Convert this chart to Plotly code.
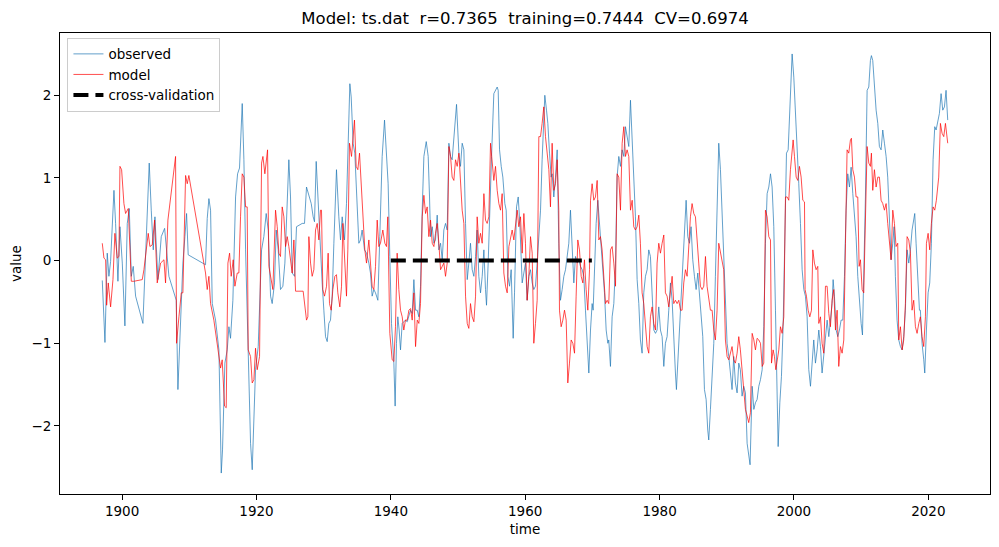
import plotly.graph_objects as go

# ---- observed series (year, value) ----
obs_t = [1897.05,1897.45,1897.79,1898.04,1898.29,1898.79,1899.03,1899.38,1899.68,1900.03,1900.42,1900.77,1901.07,1901.37,1901.66,1902.01,1903.10,1903.50,1904.04,1904.34,1904.64,1904.89,1905.33,1905.83,1906.33,1906.97,1908.06,1908.31,
1908.70,1909.05,1909.35,1909.60,1909.84,1912.42,1912.67,1912.92,1913.17,1913.42,1913.91,1914.41,1914.76,1914.95,1915.30,1915.65,1915.90,1916.14,1916.49,1916.89,1917.19,1917.48,1917.88,1918.13,1918.38,1918.77,1919.12,1919.37,1919.62,1919.86,1920.26,1920.76,1921.10,1921.45,1921.75,1922.10,1922.34,1922.69,1922.94,1923.24,1923.58,1923.93,1924.23,1924.58,1924.82,1925.07,
1925.32,1925.67,1925.96,1926.81,1927.15,1927.45,1927.80,1928.15,1928.44,1928.64,1928.89,1929.14,1929.43,1929.78,1930.03,1930.28,1930.53,1930.77,1931.02,1931.27,1931.52,1931.91,1932.26,1932.51,1932.76,1933.11,1933.40,1933.70,1933.90,1934.10,1934.39,1934.64,1934.89,1935.24,1935.49,1935.73,1936.08,1936.38,1936.73,1936.97,1937.22,1937.47,1937.72,1938.07,1938.36,1938.71,1939.06,1939.35,1939.60,1939.85,1940.10,1940.45,1940.64,1940.84,1941.04,1941.24,1941.44,1941.69,1942.18,
1942.44,1942.69,1942.93,1943.18,1943.43,1943.68,1943.93,1944.17,1944.42,1944.67,1944.92,1945.27,1945.56,1945.76,1945.91,1946.16,1946.41,1946.65,1946.90,1947.15,1947.40,1947.65,1947.89,1948.14,1948.39,1948.64,1948.89,1949.13,1949.38,1949.63,1949.78,1950.13,1950.37,1950.62,1950.87,1951.12,1951.37,1951.61,1951.86,1952.11,1952.36,1952.61,1952.85,1953.10,1953.35,1953.60,1953.85,1954.09,1954.24,1954.49,1954.69,1954.99,1955.33,1955.58,1955.83,1955.98,1956.18,1956.43,1956.67,1956.97,1957.17,1957.42,1957.67,1957.91,1958.21,1958.41,1958.71,1958.96,1959.20,
1959.55,1959.80,1960.04,1960.29,1960.54,1960.79,1961.04,1961.28,1961.53,1961.78,1962.03,1962.28,1962.52,1962.77,1962.92,1963.17,1963.37,1963.62,1963.86,1964.01,1964.26,1964.51,1964.76,1965.00,1965.25,1965.50,1965.75,1966.00,1966.24,1966.49,1966.74,1966.99,1967.24,1967.48,1967.73,1967.98,1968.23,1968.48,1968.72,1968.97,1969.22,1969.47,1969.72,1969.96,1970.11,1970.31,1970.56,1970.81,1971.06,1971.30,1971.55,1971.80,1972.05,1972.30,1972.44,1972.69,1972.94,1973.19,1973.44,1973.68,1973.93,1974.18,1974.43,1974.68,1974.92,1975.17,1975.42,1975.67,1975.92,1976.16,1976.41,
1976.66,1976.91,1977.15,1977.40,1977.65,1977.90,1978.15,1978.39,1978.64,1978.89,1979.14,1979.39,1979.63,1979.88,1980.13,1980.38,1980.63,1980.87,1981.12,1981.37,1981.62,1981.87,1982.11,1982.36,1982.51,1982.76,1983.01,1983.25,1983.50,1983.75,1983.95,1984.20,1984.45,1984.69,1984.94,1985.19,1985.44,1985.69,1985.93,1986.18,1986.43,1986.68,1986.93,1987.17,1987.32,1987.57,1987.82,1988.07,1988.31,1988.56,1988.81,1989.06,1989.31,1989.55,1989.80,1990.05,1990.30,1990.55,1990.79,1991.04,1991.29,1991.54,1991.79,1992.03,1992.28,1992.53,1992.78,1993.03,1993.27,1993.47,
1993.78,1994.03,1994.27,1994.52,1994.77,1995.02,1995.27,1995.51,1995.76,1996.01,1996.26,1996.51,1996.75,1997.00,1997.25,1997.50,1997.65,1997.90,1998.14,1998.39,1998.64,1998.89,1999.14,1999.38,1999.58,1999.73,1999.98,2000.23,2000.47,2000.72,2000.97,2001.22,2001.47,2001.71,2001.96,2002.21,2002.46,2002.71,2002.95,2003.20,2003.45,2003.70,2003.95,2004.19,2004.44,2004.69,2004.94,2005.19,2005.43,2005.68,2005.83,2006.03,2006.28,2006.53,2006.77,2007.02,2007.27,2007.52,2007.76,2008.01,2008.26,2008.51,2008.76,2009.01,2009.25,2009.50,2009.75,2010.00,2010.20,2010.39,2010.64,
2010.89,2011.14,2011.38,2011.53,2011.73,2011.98,2012.23,2012.48,2012.72,2012.97,2013.22,2013.47,2013.72,2013.96,2014.21,2014.46,2014.71,2014.91,2015.10,2015.35,2015.60,2015.85,2016.10,2016.34,2016.59,2016.84,2017.09,2017.34,2017.58,2017.83,2017.98,2018.18,2018.43,2018.68,2018.82,2019.07,2019.32,2019.47,2019.72,2019.97,2020.21,2020.46,2020.71,2020.96,2021.16,2021.40,2021.65,2021.90,2022.15,2022.40,2022.64,2022.89]
obs_v = [-0.24,-0.99,0.09,-0.19,-0.01,0.85,0.45,-0.25,0.41,-0.03,-0.79,0.45,0.63,-0.19,-0.07,-0.43,-0.76,0.13,1.18,0.61,0.13,0.53,-0.23,0.29,0.39,-0.19,-0.48,-1.56,
-0.84,-0.03,0.29,0.57,0.07,-0.05,0.51,0.75,0.61,-0.52,-0.72,-1.08,-2.57,-2.29,-1.24,-1.08,-0.80,-0.94,-0.48,0.77,1.05,1.12,1.90,1.22,0.13,-1.00,-2.21,-2.53,-1.96,-1.32,-1.04,0.13,0.29,0.57,0.37,-0.43,-0.52,-0.27,0.37,0.13,-0.35,-0.31,-0.03,0.85,1.22,0.77,
-0.15,-0.19,0.41,0.45,0.45,0.89,0.79,0.69,0.53,0.47,1.20,0.77,0.21,-0.27,-0.60,-0.92,-0.98,-0.76,-0.72,-0.43,0.21,1.10,0.53,0.25,0.53,0.25,0.69,1.74,2.14,1.98,1.42,1.30,0.89,0.21,0.25,0.37,0.13,0.09,-0.03,-0.15,-0.43,-0.35,-0.39,-0.48,0.29,1.26,1.70,1.30,0.93,0.05,-0.76,-1.24,-1.76,-1.00,-0.68,-0.84,-1.08,-0.76,-0.72,
-0.74,-0.68,-0.60,-0.64,-0.23,-0.60,-0.60,-0.68,-0.31,0.61,1.26,1.44,1.26,0.77,0.29,0.41,0.21,0.25,0.55,0.13,0.21,0.01,0.37,0.45,0.37,1.42,1.26,1.22,1.50,1.82,1.89,1.30,1.14,1.42,1.34,0.45,-0.23,-0.03,0.21,-0.11,-0.19,0.05,0.37,-0.19,-0.39,-0.19,0.13,-0.35,-0.54,-0.03,0.61,1.26,2.02,2.06,2.10,2.06,1.34,1.14,1.01,0.69,0.61,-0.19,-0.31,-0.11,-0.94,-0.39,0.65,0.77,0.45,
-0.27,-0.15,-0.03,-0.48,-0.19,-0.11,-0.27,-0.35,-0.31,-0.03,0.37,0.61,1.22,1.82,2.00,1.82,1.66,1.30,1.01,1.05,0.77,1.01,1.34,0.21,-0.48,-0.35,-0.19,-0.11,0.09,0.21,0.61,0.13,-0.27,0.05,-0.03,0.01,-0.07,-0.11,-0.19,-0.60,-1.00,-1.36,-0.84,-0.52,-0.60,-0.03,0.45,0.73,0.45,0.13,-0.03,-0.39,-0.84,-1.00,-0.96,-1.28,-0.68,-0.52,-0.03,1.01,1.26,1.14,1.34,1.26,1.62,1.50,1.38,1.94,1.42,0.85,0.53,
-0.23,-0.52,-0.96,-1.12,-0.39,-0.19,-0.11,0.13,0.05,-0.52,-0.84,-0.88,-0.84,-0.56,-0.84,-0.92,-1.28,-1.00,-0.92,-0.60,-0.27,-0.48,-1.00,-1.36,-1.56,-1.16,-0.84,-0.52,-0.11,0.45,0.73,0.29,0.21,0.41,0.01,-0.19,-0.35,-0.15,-0.39,-0.72,-0.92,-1.56,-1.68,-2.05,-2.17,-1.80,-1.40,-1.00,-0.19,0.61,1.42,1.10,0.53,0.21,-0.60,-1.00,-1.16,-1.40,-1.56,-1.16,-1.48,-1.60,-1.24,-1.32,-1.64,-1.52,-1.60,-2.21,-2.37,-2.47,
-1.52,-1.80,-1.72,-1.68,-1.52,-1.44,-1.32,-0.80,0.21,0.81,0.89,1.05,0.89,0.41,-0.60,-1.60,-2.25,-1.72,-1.40,-0.80,0.21,1.30,1.34,1.82,2.22,2.50,2.22,1.82,1.34,0.93,0.45,-0.11,-0.35,-0.43,-0.68,-1.32,-1.52,-1.16,-0.96,-1.24,-1.08,-0.84,-1.04,-1.36,-1.12,-0.88,-0.72,-0.92,-0.76,-0.52,-0.23,-0.43,-0.84,-0.92,-0.84,-0.72,-0.72,-0.19,0.61,1.05,0.89,1.13,0.81,0.53,0.29,-0.19,-0.52,-0.76,-0.90,-0.27,0.77,
2.06,2.10,2.42,2.48,2.42,2.10,1.82,1.66,1.38,1.34,1.58,1.42,1.26,1.01,0.41,0.01,0.21,0.41,-0.19,-0.72,-0.96,-1.04,-1.08,-0.92,-0.60,0.13,-0.03,0.13,0.37,0.53,0.57,0.21,-0.19,-0.60,-0.60,-1.00,-1.20,-1.36,-0.84,-0.39,-0.27,0.21,1.22,1.62,1.58,1.70,1.78,2.02,1.82,1.86,2.06,1.70]

# ---- model series (year, value) ----
mod_t = [1897.05,1897.30,1897.55,1897.70,1897.94,1898.29,1898.64,1898.93,1899.28,1899.53,1899.68,1899.93,1900.27,1900.52,1900.92,1901.12,1901.37,1901.76,1903.00,1903.25,1903.65,1903.89,1904.14,1904.49,1904.84,1905.23,1905.73,1906.23,1906.47,1906.82,1907.96,1908.11,1908.46,1908.81,1909.05,
1909.20,1909.45,1909.70,1909.94,1912.42,1912.67,1912.92,1913.17,1913.66,1914.41,1914.66,1914.90,1915.25,1915.50,1915.75,1916.00,1916.24,1916.54,1916.79,1917.14,1917.38,1917.63,1917.88,1918.13,1918.38,1918.62,1918.77,1919.12,1919.37,1919.62,1919.86,1920.11,1920.46,1920.76,1920.96,1921.25,1921.65,1921.85,1922.20,1922.44,1922.84,1923.09,1923.34,1923.58,1923.83,1924.08,1924.33,1924.58,1924.82,1925.07,1925.32,1925.57,1925.82,
1926.95,1927.15,1927.45,1927.65,1927.80,1928.05,1928.29,1928.54,1928.79,1929.04,1929.29,1929.53,1929.68,1929.88,1930.13,1930.43,1930.67,1930.87,1931.12,1931.37,1931.67,1931.91,1932.11,1932.41,1932.66,1932.86,1933.11,1933.40,1933.60,1933.85,1934.15,1934.35,1934.59,1934.84,1935.09,1935.34,1935.59,1935.88,1936.13,1936.38,1936.73,1936.97,1937.22,1937.47,1937.72,1937.97,1938.21,1938.46,1938.81,1939.11,1939.35,1939.55,1939.70,1939.85,1940.20,1940.45,1940.69,1940.94,1941.19,1941.44,1941.69,1941.93,1942.18,
1942.44,1942.69,1942.93,1943.18,1943.43,1943.68,1943.93,1944.17,1944.42,1944.67,1944.92,1945.17,1945.41,1945.66,1945.91,1946.16,1946.41,1946.65,1946.90,1947.15,1947.40,1947.65,1947.89,1948.14,1948.39,1948.64,1948.89,1949.13,1949.38,1949.63,1949.88,1950.13,1950.37,1950.62,1950.87,1951.12,1951.37,1951.61,1951.86,1952.11,1952.36,1952.61,1952.85,1953.10,1953.35,1953.60,1953.85,1954.09,1954.34,1954.59,1954.84,1955.09,1955.33,1955.58,1955.83,1956.08,1956.33,1956.57,1956.82,1957.07,1957.32,1957.57,1957.81,1958.06,1958.31,1958.56,1958.81,1959.05,1959.30,
1959.55,1959.80,1960.04,1960.29,1960.54,1960.79,1961.04,1961.28,1961.53,1961.78,1962.03,1962.28,1962.52,1962.77,1963.02,1963.27,1963.52,1963.76,1964.01,1964.26,1964.51,1964.76,1965.00,1965.10,1965.35,1965.60,1965.85,1966.10,1966.34,1966.59,1966.84,1967.09,1967.34,1967.58,1967.83,1968.08,1968.33,1968.58,1968.82,1969.07,1969.32,1969.57,1969.72,1969.96,1970.21,1970.46,1970.71,1970.96,1971.20,1971.45,1971.70,1971.95,1972.20,1972.44,1972.69,1972.94,1973.19,1973.44,1973.68,1973.93,1974.18,1974.43,1974.68,1974.92,1975.17,1975.42,1975.67,1975.92,1976.16,1976.41,
1976.66,1976.91,1977.15,1977.40,1977.65,1977.90,1978.15,1978.39,1978.64,1978.89,1979.14,1979.39,1979.63,1979.88,1980.13,1980.38,1980.63,1980.87,1981.12,1981.37,1981.62,1981.87,1982.11,1982.36,1982.61,1982.86,1983.11,1983.35,1983.60,1983.85,1984.10,1984.35,1984.59,1984.84,1985.09,1985.34,1985.59,1985.83,1986.08,1986.33,1986.58,1986.83,1987.07,1987.32,1987.57,1987.82,1988.07,1988.31,1988.56,1988.81,1989.06,1989.31,1989.55,1989.80,1990.05,1990.30,1990.55,1990.79,1991.04,1991.29,1991.54,1991.79,1992.03,1992.28,1992.53,1992.78,1993.03,1993.27,1993.52,
1993.78,1994.03,1994.27,1994.52,1994.77,1995.02,1995.27,1995.51,1995.76,1996.01,1996.26,1996.51,1996.66,1996.90,1997.10,1997.30,1997.50,1997.75,1997.99,1998.24,1998.49,1998.74,1998.99,1999.23,1999.48,1999.73,1999.88,2000.08,2000.33,2000.57,2000.82,2001.07,2001.32,2001.57,2001.66,2001.86,2002.11,2002.36,2002.61,2002.81,2003.05,2003.30,2003.55,2003.70,2003.95,2004.19,2004.44,2004.69,2004.94,2005.19,2005.43,2005.68,2005.93,2006.18,2006.43,2006.67,2006.92,2007.17,2007.42,2007.67,2007.91,2008.16,2008.41,2008.56,2008.76,2009.01,2009.25,2009.50,2009.70,2009.90,2010.15,2010.39,2010.64,2010.89,
2011.14,2011.38,2011.53,2011.73,2011.98,2012.23,2012.48,2012.72,2012.97,2013.22,2013.47,2013.72,2013.96,2014.21,2014.46,2014.71,2014.96,2015.20,2015.45,2015.60,2015.85,2016.10,2016.34,2016.59,2016.84,2017.09,2017.34,2017.58,2017.83,2018.08,2018.33,2018.58,2018.82,2019.07,2019.32,2019.57,2019.72,2019.97,2020.21,2020.46,2020.71,2020.96,2021.20,2021.55,2021.80,2022.05,2022.30,2022.55,2022.79,2022.89]
mod_v = [0.21,0.03,0.01,-0.54,-0.27,-0.56,-0.23,0.33,0.03,0.05,1.14,1.10,0.69,0.57,0.63,0.13,-0.25,-0.25,-0.23,-0.11,0.13,0.33,0.17,0.19,0.49,-0.27,-0.03,0.01,-0.27,0.49,1.26,-1.00,-0.68,-0.39,-0.39,
0.25,1.03,0.93,1.03,-0.15,-0.35,-0.19,-0.52,-0.72,-1.12,-1.30,-1.20,-1.76,-1.78,-0.03,0.09,-0.19,0.01,-0.31,-0.15,-0.15,0.53,1.05,1.01,0.65,0.65,-1.08,-1.16,-1.48,-1.44,-1.06,-1.32,-1.16,1.18,1.26,1.05,1.34,-0.07,-0.27,-0.35,0.61,0.41,0.09,0.05,0.65,0.53,0.17,0.29,0.17,-0.03,-0.15,0.25,-0.37,
-0.37,-0.52,-0.72,-0.68,0.29,-0.03,-0.19,-0.11,0.37,0.45,0.25,0.61,0.61,-0.35,-0.43,-0.31,0.09,-0.52,-0.60,-0.35,-0.19,-0.17,-0.39,-0.56,-0.31,0.45,-0.03,-0.43,0.13,1.42,1.26,1.50,1.70,1.14,1.10,1.30,0.97,0.45,0.13,-0.03,0.25,-0.03,-0.31,-0.35,-0.07,0.49,0.17,0.21,0.37,0.21,0.17,0.53,-0.19,-0.88,-1.20,-1.22,-0.80,0.09,-0.35,-0.60,-0.68,-0.84,-0.72,
-0.72,-0.60,-0.58,-0.72,-0.39,-1.04,-0.72,-0.76,-0.52,0.53,0.79,0.57,0.65,0.29,0.49,0.21,0.17,0.33,0.45,0.21,-0.11,-0.07,-0.03,-0.19,-0.03,1.38,1.26,1.01,0.97,1.22,1.14,1.30,0.93,0.61,0.45,-0.43,-0.76,-0.82,-0.52,-0.68,-0.74,-0.43,0.53,0.21,0.33,0.21,0.81,0.49,0.45,0.53,1.42,1.14,0.97,1.14,0.85,0.69,0.61,0.81,-0.15,-0.31,-0.39,0.17,0.25,0.37,0.25,0.45,0.61,0.41,0.53,
0.09,0.57,0.21,-0.48,-0.19,0.29,0.09,-1.00,-0.76,-0.48,1.50,1.50,1.66,1.86,1.50,1.26,1.10,0.65,1.42,0.85,0.93,1.22,0.61,-0.60,-0.80,-0.72,-0.60,-0.72,-1.48,-1.24,-0.96,-1.00,-1.12,-0.43,0.25,0.13,-0.19,-0.27,0.01,-0.35,-0.60,-0.11,0.73,0.93,0.73,0.77,0.97,0.25,0.29,0.13,-0.27,-0.52,-0.48,-0.52,0.13,0.17,-0.03,-0.31,1.05,1.01,0.61,1.42,1.62,1.26,1.34,1.26,0.61,0.73,0.41,0.37,
0.41,0.55,0.21,-0.39,-0.52,-0.84,-1.04,-1.12,-0.68,-0.56,-0.76,-0.84,-0.03,0.21,0.09,0.21,0.31,-0.39,-0.43,-0.56,-0.39,-0.19,-0.52,-0.48,-0.52,-0.48,-0.60,-0.60,-0.27,-0.11,-0.19,0.21,0.53,0.69,0.57,0.53,0.17,-0.03,-0.31,-0.35,-0.31,0.05,-0.31,-0.43,-0.60,-0.60,-0.84,-0.96,-0.60,0.21,0.09,-0.03,-0.11,-0.96,-1.16,-1.20,-1.12,-1.04,-1.20,-1.24,-1.12,-0.92,-1.08,-1.32,-1.48,-1.80,-1.88,-1.96,-1.84,
-0.88,-0.96,-1.08,-0.94,-0.96,-1.00,-1.28,-1.24,0.61,0.53,0.29,0.25,-1.24,-1.08,-1.16,-1.32,-1.20,-1.08,-0.80,-0.88,-0.68,0.77,0.77,0.73,1.10,1.34,1.46,1.26,1.01,0.97,1.14,1.01,0.73,0.71,-0.35,-0.43,-0.60,-0.68,-0.60,0.13,-0.03,-0.11,-0.07,-0.76,-0.68,-1.00,-1.12,-0.31,-0.31,-0.64,-0.80,-0.48,-0.35,-0.84,-0.60,-1.28,-1.04,-1.12,-0.96,0.21,1.34,1.30,1.46,1.48,1.10,1.01,0.77,0.77,-0.07,0.01,-0.35,-0.39,0.53,1.38,
1.18,1.14,1.30,0.85,1.10,0.89,1.01,1.01,0.73,0.69,0.61,0.69,0.45,0.21,0.01,0.61,0.45,0.17,0.21,-0.96,-0.80,-1.08,-0.96,-0.52,0.29,0.25,0.09,-0.60,-0.48,-0.80,-0.88,-0.76,-0.68,-0.92,-1.04,-0.68,0.21,0.33,0.13,0.45,0.65,0.61,0.73,1.01,1.66,1.54,1.50,1.66,1.46,1.42]

# ---- cross-validation period ----
cv_t = [1940.0, 1969.92]
cv_v = [0.0, 0.0]

x_ticks = [1900, 1920, 1940, 1960, 1980, 2000, 2020]
y_ticks = [-2, -1, 0, 1, 2]
title_text = "Model: ts.dat  r=0.7365  training=0.7444  CV=0.6974"

FONT = "DejaVu Sans"

fig = go.Figure()
fig.add_trace(go.Scatter(x=obs_t, y=obs_v, mode="lines", name="observed",
                         line=dict(color="#1f77b4", width=0.7)))
fig.add_trace(go.Scatter(x=mod_t, y=mod_v, mode="lines", name="model",
                         line=dict(color="red", width=0.7)))
fig.add_trace(go.Scatter(x=cv_t, y=cv_v, mode="lines", name="cross-validation",
                         line=dict(color="black", width=4, dash="15px,7px")))

allx = obs_t + mod_t
ally = obs_v + mod_v + cv_v
xmin, xmax = min(allx), max(allx)
ymin, ymax = min(ally), max(ally)
xp = 0.05 * (xmax - xmin)
yp = 0.05 * (ymax - ymin)

axis_common = dict(showgrid=False, zeroline=False, showline=True, linecolor="black",
                   linewidth=1, mirror=True, ticks="outside", ticklen=5, tickwidth=1,
                   tickcolor="black", tickfont=dict(family=FONT, size=13.5, color="black"))

fig.update_layout(
    width=999, height=547,
    margin=dict(l=60, r=9, t=33, b=53),
    paper_bgcolor="white", plot_bgcolor="white",
    font=dict(family=FONT, size=13.5, color="black"),
    title=dict(text=title_text, x=0.5, xref="paper", y=1 - 18 / 547, yref="container",
               yanchor="middle", xanchor="center", font=dict(family=FONT, size=16.5, color="black")),
    showlegend=True,
    legend=dict(x=0.008, y=0.99, xanchor="left", yanchor="top", bgcolor="rgba(255,255,255,0.8)",
                bordercolor="#cccccc", borderwidth=1, font=dict(family=FONT, size=13.5),
                tracegroupgap=0),
    xaxis=dict(range=[xmin - xp, xmax + xp], tickvals=x_ticks,
               title=dict(text="time", standoff=6, font=dict(family=FONT, size=13.5)),
               **axis_common),
    yaxis=dict(range=[ymin - yp, ymax + yp], tickvals=y_ticks,
               title=dict(text="value", standoff=6, font=dict(family=FONT, size=13.5)),
               **axis_common),
)

fig.write_html("out.html", config={"displayModeBar": False},
               post_script="document.body.style.margin='0';")
